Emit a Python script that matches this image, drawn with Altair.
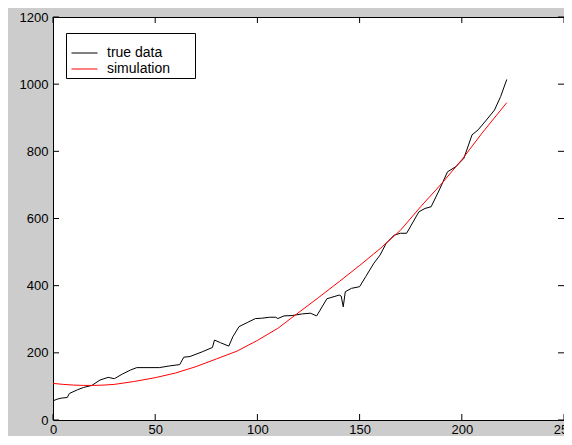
import altair as alt
import pandas as pd

# true data (black)
true_x = [0, 2, 4, 7, 8, 12, 15, 19, 23, 27, 30, 34, 38, 41, 52, 57, 62, 64, 67, 73, 78, 79, 82, 86, 88, 91, 95, 99, 102, 106, 109, 110, 113, 117, 122, 126, 129, 134, 140, 141, 142, 143, 146, 150, 153, 157, 160, 163, 167, 170, 173, 179, 182, 185, 189, 193, 197, 201, 205, 208, 212, 216, 219, 222]
true_y = [57, 62, 65, 67, 79, 90, 97, 103, 119, 127, 123, 137, 149, 156, 156, 161, 165, 187, 189, 203, 216, 238, 230, 220, 248, 278, 290, 302, 303, 306, 306, 302, 310, 311, 316, 318, 310, 361, 372, 369, 337, 382, 392, 397, 427, 467, 491, 526, 551, 556, 556, 620, 630, 635, 685, 739, 754, 779, 849, 864, 893, 923, 963, 1014]

# simulation (red)
sim_x = [0, 5, 10, 15, 20, 25, 30, 40, 50, 60, 70, 80, 90, 100, 110, 118, 130, 140, 150, 160, 170, 180, 190, 200, 210, 222]
sim_y = [109, 106, 104, 103, 103, 104, 106, 115, 126, 140, 159, 182, 205, 237, 273, 310, 365, 412, 460, 510, 565, 636, 703, 775, 855, 945]

series_names = ["true data", "simulation"]
series_colors = ["#000000", "#ff0000"]

x_ticks = [0, 50, 100, 150, 200, 250]
y_ticks = [0, 200, 400, 600, 800, 1000, 1200]

W, H = 511, 403
FONT = "Liberation Sans"

df = pd.concat([
    pd.DataFrame({"x": true_x, "y": true_y, "series": series_names[0], "order": range(len(true_x))}),
    pd.DataFrame({"x": sim_x, "y": sim_y, "series": series_names[1], "order": range(len(sim_x))}),
])

xs = alt.Scale(domain=[0, 250], nice=False)
ys = alt.Scale(domain=[0, 1200], nice=False)

xaxis = alt.Axis(values=x_ticks, tickSize=0, domain=False, grid=False, labelPadding=3,
                 labelFontSize=13, labelFont=FONT, labelColor="#000000", title=None,
                 labelFlush=False, format="d")
yaxis = alt.Axis(values=y_ticks, tickSize=0, domain=False, grid=False, labelPadding=5,
                 labelFontSize=13, labelFont=FONT, labelColor="#000000", title=None,
                 format="d")

# invisible (white on white) spacer that sets the legend box width
spacer_title = "_" * 32

lines = alt.Chart(df).mark_line(strokeWidth=1, clip=True).encode(
    x=alt.X("x:Q", scale=xs, axis=xaxis),
    y=alt.Y("y:Q", scale=ys, axis=yaxis),
    color=alt.Color("series:N",
                    scale=alt.Scale(domain=series_names, range=series_colors),
                    legend=alt.Legend(title=spacer_title, titleFontSize=7, titlePadding=4,
                                      titleLimit=400, titleFont=FONT, titleColor="#ffffff",
                                      titleFontWeight="normal",
                                      orient="none", legendX=13, legendY=16,
                                      fillColor="#ffffff", strokeColor="#000000",
                                      padding=2, symbolType="M-2,0H2", symbolSize=169,
                                      symbolStrokeWidth=1, symbolOffset=9.5,
                                      labelFontSize=14, labelFont=FONT,
                                      labelColor="#000000", labelOffset=15.5,
                                      rowPadding=2)),
    order="order:Q",
    detail="series:N",
)

xt = pd.DataFrame({"v": x_ticks})
yt = pd.DataFrame({"v": y_ticks})
TL = 6
bottom_ticks = alt.Chart(xt).mark_rule(color="#000000", strokeWidth=1).encode(
    x=alt.X("v:Q", scale=xs), y=alt.value(H), y2=alt.value(H - TL))
top_ticks = alt.Chart(xt).mark_rule(color="#000000", strokeWidth=1).encode(
    x=alt.X("v:Q", scale=xs), y=alt.value(0), y2=alt.value(TL))
left_ticks = alt.Chart(yt).mark_rule(color="#000000", strokeWidth=1).encode(
    y=alt.Y("v:Q", scale=ys), x=alt.value(0), x2=alt.value(TL))
right_ticks = alt.Chart(yt).mark_rule(color="#000000", strokeWidth=1).encode(
    y=alt.Y("v:Q", scale=ys), x=alt.value(W), x2=alt.value(W - TL))

chart = alt.layer(bottom_ticks, top_ticks, left_ticks, right_ticks, lines).properties(
    width=W, height=H,
    autosize=alt.AutoSizeParams(type="none"),
    padding={"left": 45, "top": 9, "right": 0, "bottom": 16},
    background="#cccccc",
).configure_view(stroke="#000000", strokeWidth=1, fill="#ffffff")

chart.save("out.html", embed_options={"renderer": "svg", "actions": False})
